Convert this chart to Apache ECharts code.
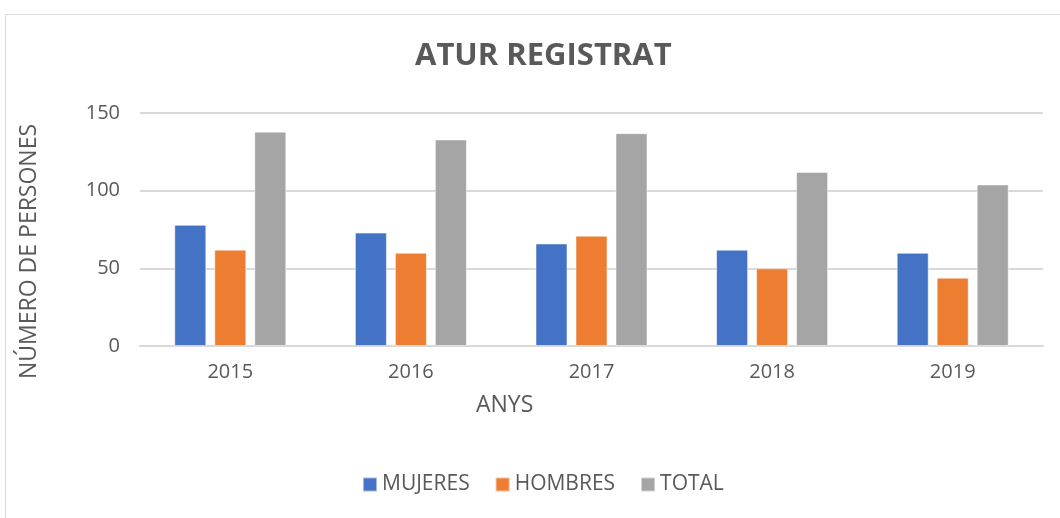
<!DOCTYPE html>
<html>
<head>
<meta charset="utf-8">
<script src="https://cdn.jsdelivr.net/npm/echarts@6/dist/echarts.min.js"></script>
<style>
html,body{margin:0;padding:0;background:#fff;}
#chart{width:1060px;height:518px;}
</style>
</head>
<body>
<div id="chart"></div>
<script>
// dades
var anys = ['2015', '2016', '2017', '2018', '2019'];
var mujeres = [78, 73, 66, 62, 60];
var hombres = [62, 60, 71, 50, 44];
var total = [138, 133, 137, 112, 104];

var chart = echarts.init(document.getElementById('chart'));
var font = 'Open Sans';

function serie(nom, valors, color) {
    return {
        name: nom,
        type: 'bar',
        data: valors,
        barWidth: 32,
        barGap: '25%',
        itemStyle: {color: color, borderColor: 'rgba(255,255,255,0.5)', borderWidth: 1}
    };
}

var option = {
    animation: false,
    title: {
        text: 'ATUR REGISTRAT',
        left: 410,
        top: 36,
        textStyle: {fontFamily: font, fontSize: 31, fontWeight: 'bold', color: '#595959'}
    },
    legend: {
        bottom: 18,
        left: 357,
        itemWidth: 14,
        itemHeight: 14,
        itemGap: 25,
        icon: 'rect',
        textStyle: {fontFamily: font, fontSize: 21, color: '#595959'},
        data: ['MUJERES', 'HOMBRES', 'TOTAL']
    },
    grid: {left: 140, right: 17, top: 113, bottom: 172},
    xAxis: {
        type: 'category',
        data: anys,
        axisLine: {lineStyle: {color: '#d9d9d9', width: 2}},
        axisTick: {show: false},
        axisLabel: {fontFamily: font, fontSize: 20, color: '#595959', margin: 16}
    },
    yAxis: {
        type: 'value',
        min: 0,
        max: 150,
        interval: 50,
        axisLabel: {fontFamily: font, fontSize: 20, color: '#595959', margin: 20},
        splitLine: {lineStyle: {color: '#d9d9d9', width: 2}}
    },
    graphic: [
        {type: 'rect', left: 3, top: 12, shape: {width: 1100, height: 600},
         style: {fill: 'none', stroke: '#d9d9d9', lineWidth: 1}},
        {type: 'text', left: 476, top: 394,
         style: {text: 'ANYS', font: '23px "Open Sans"', fill: '#595959'}},
        {type: 'text', x: 18, y: 379, rotation: Math.PI / 2,
         style: {text: 'NÚMERO DE PERSONES', font: '23px "Open Sans"', fill: '#595959'}}
    ],
    series: [
        serie('MUJERES', mujeres, '#4472C4'),
        serie('HOMBRES', hombres, '#ED7D31'),
        serie('TOTAL', total, '#A5A5A5')
    ]
};
chart.setOption(option);
</script>
</body>
</html>
